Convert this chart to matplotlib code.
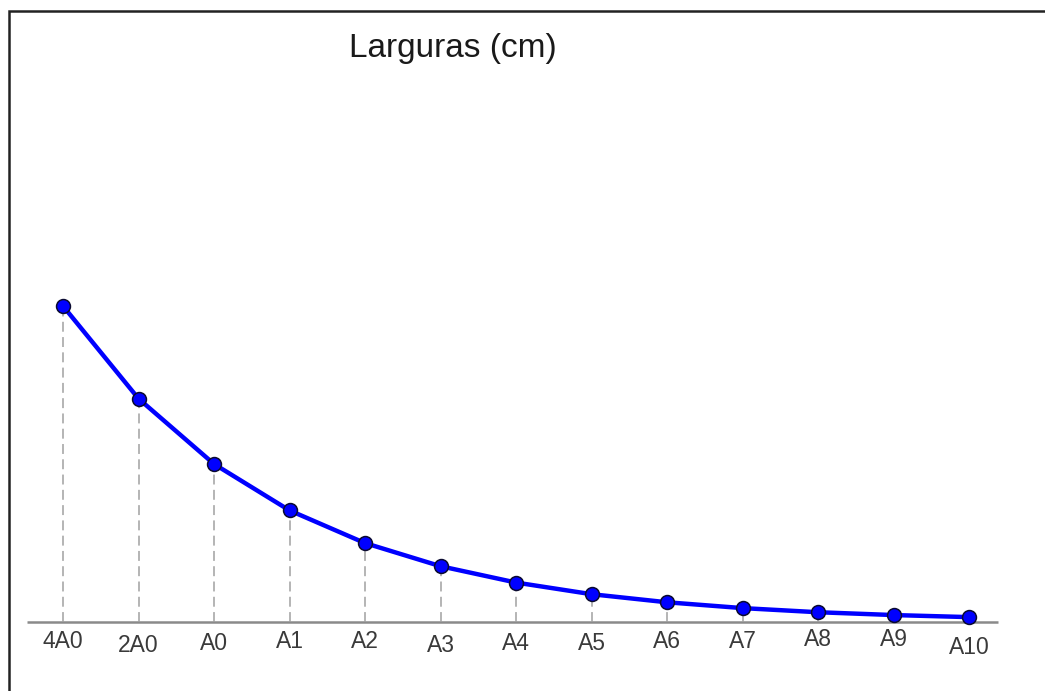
import matplotlib
matplotlib.use("Agg")
import matplotlib.pyplot as plt
from matplotlib.patches import Rectangle

# Data: widths (cm) of ISO A-series sheets
sizes = ["4A0", "2A0", "A0", "A1", "A2", "A3", "A4", "A5", "A6", "A7", "A8", "A9", "A10"]
widths = [168.2, 118.9, 84.1, 59.4, 42.0, 29.7, 21.0, 14.8, 10.5, 7.4, 5.2, 3.7, 2.6]
title = "Larguras (cm)"

plt.rcParams['font.family'] = ['Liberation Sans', 'DejaVu Sans']

W, H, DPI = 1045, 691, 100
fig = plt.figure(figsize=(W / DPI, H / DPI), dpi=DPI)
ax = fig.add_axes([0, 0, 1, 1])
ax.set_axis_off()

x0, dx = 63, 75.5          # pixel position of first point and spacing
base, scale = 622, 316 / 168.2  # baseline pixel and px per cm
ax.set_xlim(-x0 / dx, (W - x0) / dx)
ax.set_ylim(-(H - base) / scale, base / scale)

xs = list(range(len(sizes)))

# baseline axis
ax.plot([(27 - x0) / dx, (998 - x0) / dx], [0, 0], color="#8a8a8a", lw=1.8,
        solid_capstyle="butt", zorder=1)

# dashed drop lines
for x, w in zip(xs, widths):
    ax.plot([x, x], [0, w], color="#a0a0a0", lw=1.1, ls=(0, (6.5, 3.5)), zorder=2)

# curve
ax.plot(xs, widths, color="#0000ff", lw=3.2, zorder=3,
        marker="o", markersize=10, markerfacecolor="#0000ff",
        markeredgecolor="#0a0a30", markeredgewidth=1.1)

# tick labels (slightly staggered as in the original)
label_y_px = [641, 645, 643, 641, 641, 645, 643, 644, 642, 641, 639, 640, 648]
for x, lab, ypx in zip(xs, sizes, label_y_px):
    ax.text(x, -(ypx - base) / scale, lab, ha="center", va="center",
            fontsize=16.5, color="#3a3a3a")

# title
fig.text(453 / W, 1 - 49 / H, title, ha="center", va="center",
         fontsize=24, color="#1a1a1a")

# outer frame
fig.patches.append(Rectangle((9 / W, -0.05), 1.2, 1 - 11 / H + 0.05,
                             transform=fig.transFigure, fill=False,
                             edgecolor="#222222", lw=1.8))

fig.savefig("out.png", dpi=DPI)
